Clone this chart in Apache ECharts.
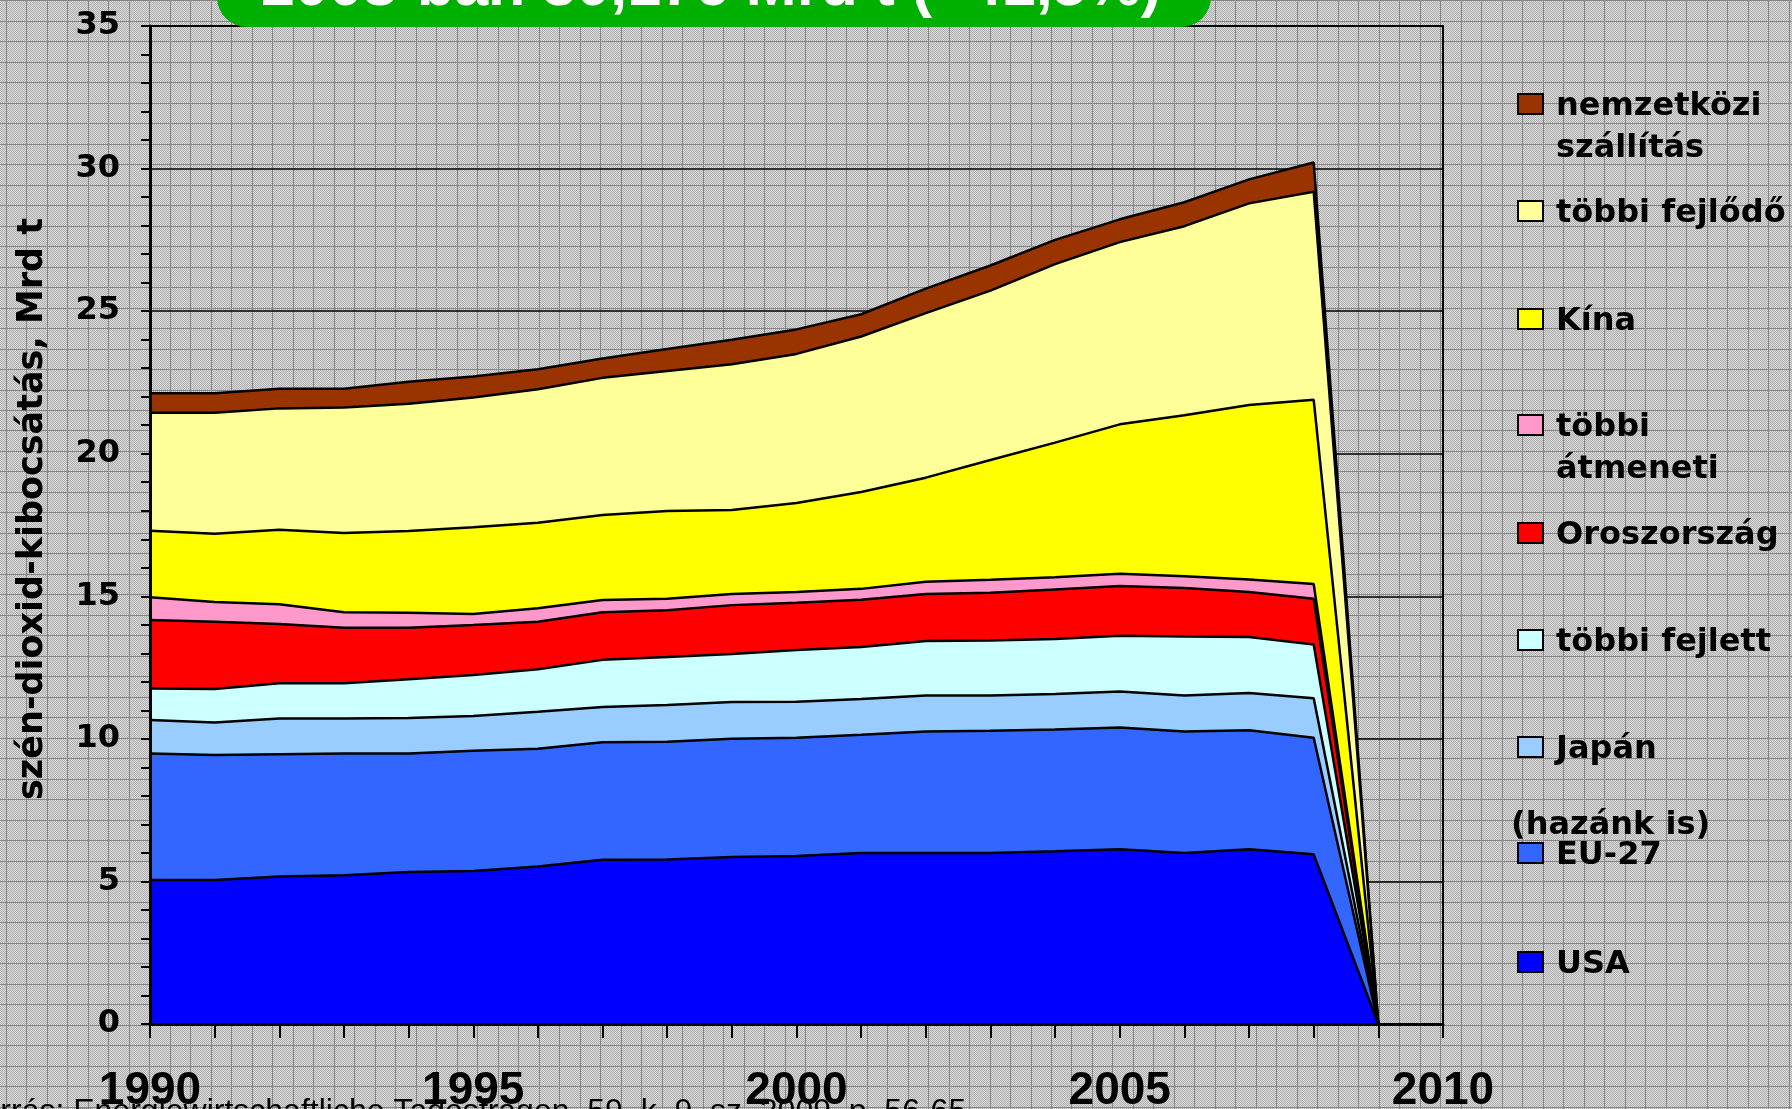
<!DOCTYPE html>
<html>
<head>
<meta charset="utf-8">
<script src="https://cdn.jsdelivr.net/npm/echarts@6/dist/echarts.min.js"></script>
<style>
html,body{margin:0;padding:0;background:#c4c4c4;}
#chart{width:1792px;height:1109px;}
</style>
</head>
<body>
<div id="chart"></div>
<script>
// ---- data ----
const axisYears = ['1990','1991','1992','1993','1994','1995','1996','1997','1998','1999','2000','2001','2002','2003','2004','2005','2006','2007','2008','2009','2010'];
const usa        = [5.05,5.05,5.17,5.22,5.33,5.37,5.52,5.76,5.77,5.86,5.89,6.00,6.00,6.00,6.06,6.13,6.00,6.13,5.95,0];
const eu27       = [4.44,4.38,4.29,4.27,4.16,4.21,4.13,4.12,4.13,4.14,4.15,4.14,4.26,4.28,4.27,4.27,4.26,4.17,4.09,0];
const japan      = [1.17,1.14,1.25,1.22,1.24,1.22,1.30,1.24,1.29,1.29,1.26,1.26,1.26,1.24,1.24,1.26,1.26,1.31,1.38,0];
const otherDeveloped = [1.11,1.18,1.24,1.24,1.36,1.44,1.49,1.65,1.68,1.69,1.82,1.82,1.91,1.93,1.93,1.96,2.07,1.96,1.89,0];
const russia     = [2.40,2.36,2.08,1.95,1.81,1.75,1.67,1.67,1.64,1.71,1.65,1.66,1.65,1.67,1.74,1.74,1.70,1.58,1.60,0];
const otherTransition = [0.80,0.69,0.69,0.54,0.52,0.39,0.47,0.43,0.40,0.39,0.38,0.38,0.43,0.46,0.43,0.43,0.41,0.44,0.52,0];
const china      = [2.33,2.39,2.61,2.78,2.87,3.04,3.00,2.98,3.08,2.95,3.12,3.40,3.65,4.20,4.72,5.24,5.65,6.12,6.46,0];
const otherDeveloping = [4.14,4.25,4.26,4.40,4.46,4.55,4.68,4.81,4.91,5.11,5.23,5.45,5.77,5.94,6.26,6.39,6.63,7.07,7.30,0];
const shipping   = [0.68,0.68,0.69,0.66,0.77,0.74,0.70,0.68,0.77,0.86,0.86,0.78,0.86,0.88,0.85,0.80,0.84,0.84,1.02,0];

const seriesNames = ['USA','EU-27','Japán','többi fejlett','Oroszország','többi átmeneti','Kína','többi fejlődő','nemzetközi szállítás'];
const seriesValues = [usa, eu27, japan, otherDeveloped, russia, otherTransition, china, otherDeveloping, shipping];
const seriesColors = ['#0000ff','#3366ff','#99ccff','#ccffff','#ff0000','#ff99cc','#ffff00','#ffff99','#993300'];

const legendLabels = ['nemzetközi\nszállítás','többi fejlődő','Kína','többi\nátmeneti','Oroszország','többi fejlett','Japán','EU-27','USA'];
const legendNote = '(hazánk is)';
const titleText = '2008-ban 30,176 Mrd t (+41,5%)';
const yAxisTitle = 'szén-dioxid-kibocsátás, Mrd t';
const sourceText = 'Forrás: Energiewirtschaftliche Tagesfragen, 59. k. 9. sz. 2009. p. 56-65';

// ---- background pattern (gray dither + grid) ----
function makeBackground(){
  const W = 1792, H = 1109;
  const c = document.createElement('canvas');
  c.width = W; c.height = H;
  const ctx = c.getContext('2d');
  const img = ctx.createImageData(W, H);
  const d = img.data;
  for (let y = 0; y < H; y++) {
    for (let x = 0; x < W; x++) {
      const v = ((x + y) & 1) ? 0xdc : 0xac;
      const k = (y * W + x) * 4;
      d[k] = d[k+1] = d[k+2] = v; d[k+3] = 255;
    }
  }
  ctx.putImageData(img, 0, 0);
  ctx.fillStyle = '#858585';
  const p = 20.49;
  for (let x = 6; x < W; x += p) ctx.fillRect(Math.round(x), 0, 1, H);
  for (let y = 0.2; y < H; y += p) ctx.fillRect(0, Math.round(y), W, 1);
  return c;
}

const chart = echarts.init(document.getElementById('chart'), null, {renderer: 'canvas'});

const legendCenters = [104, 211, 319, 425, 533, 640, 747, 853, 962];
const legendColors = seriesColors.slice().reverse();

const graphics = [
  {type:'image', z:-100, silent:true, style:{image: makeBackground(), x:0, y:0, width:1792, height:1109}},
  {type:'rect', z:100, shape:{x:217, y:-70, width:994, height:97, r:30}, style:{fill:'#00b000'}},
  {type:'text', z:101, x:711, y:-12, style:{text:titleText, fill:'#ffffff', font:'bold 61px "Liberation Sans", Arial', align:'center', verticalAlign:'middle'}},
  {type:'text', z:100, x:33, y:509, rotation:Math.PI/2, style:{text:yAxisTitle, fill:'#000', font:'bold 35px "DejaVu Sans"', align:'center', verticalAlign:'middle'}},
  {type:'text', z:100, x:-37, y:1112, style:{text:sourceText, fill:'#000', font:'32px "Liberation Sans", Arial', align:'left', verticalAlign:'middle'}},
  {type:'text', z:100, x:1511, y:826, style:{text:legendNote, fill:'#000', font:'bold 32px "DejaVu Sans"', align:'left', verticalAlign:'middle'}}
];
legendLabels.forEach((lab, i) => {
  const cy = legendCenters[i];
  graphics.push({type:'rect', z:100, shape:{x:1518, y:cy-10, width:25, height:20}, style:{fill:legendColors[i], stroke:'#000', lineWidth:2}});
  graphics.push({type:'text', z:100, x:1556, y:cy-18, style:{text:lab, fill:'#000', font:'bold 32px "DejaVu Sans"', lineHeight:42, align:'left', verticalAlign:'top'}});
});

const option = {
  animation: false,
  backgroundColor: 'transparent',
  grid: {left:150, right:349, top:26, bottom:85, containLabel:false, outerBoundsMode:'none', show:true, borderColor:'#000', borderWidth:2, backgroundColor:'transparent'},
  xAxis: {
    type:'category', data: axisYears, boundaryGap:false, z:50,
    axisLine:{lineStyle:{color:'#000', width:3}},
    axisTick:{show:true, interval:0, length:14, lineStyle:{color:'#000', width:2}},
    axisLabel:{interval:4, fontFamily:'"Liberation Sans", Arial', fontWeight:'bold', fontSize:46, color:'#000', margin:44},
    splitLine:{show:false}
  },
  yAxis: [
    {
      type:'value', min:0, max:35, interval:5, z:50,
      axisLine:{show:true, lineStyle:{color:'#000', width:3}},
      axisTick:{show:true, length:9, lineStyle:{color:'#000', width:2}},
      minorTick:{show:true, splitNumber:5, length:9, lineStyle:{color:'#000', width:2}},
      axisLabel:{fontFamily:'"DejaVu Sans"', fontWeight:'bold', fontSize:32, color:'#000', margin:30},
      splitLine:{show:false}
    },
    {
      type:'value', min:0, max:35, interval:5, z:0, position:'left',
      axisLine:{show:false}, axisTick:{show:false}, axisLabel:{show:false},
      splitLine:{show:true, lineStyle:{color:'#000', width:1.5}}
    }
  ],
  graphic: graphics,
  series: seriesNames.map((name, i) => ({
    name: name,
    type: 'line',
    stack: 'total',
    yAxisIndex: 0,
    z: 20 - i,
    symbol: 'none',
    data: seriesValues[i],
    lineStyle: {color:'#000', width:2.5},
    areaStyle: {color: seriesColors[i], opacity: 1}
  }))
};
chart.setOption(option);
</script>
</body>
</html>
